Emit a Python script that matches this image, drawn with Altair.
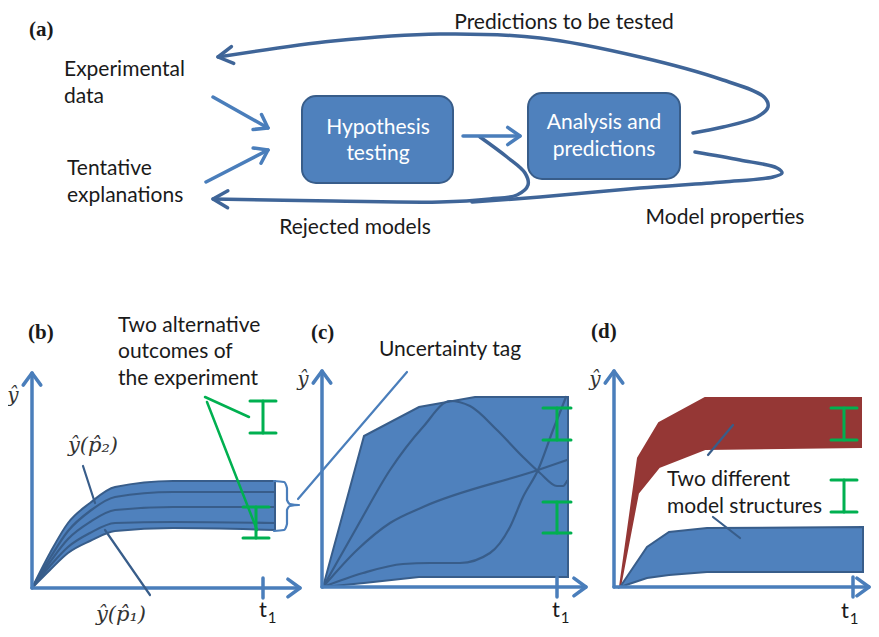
import math
import altair as alt
import pandas as pd

# ---------------- data (diagram coordinates, pixel-like units) ----------------
# Panel (a) boxes: x1, x2, y1, y2
box_x1 = [302, 528]
box_x2 = [453, 680]
box_y1 = [96, 93]
box_y2 = [183, 179]

# Panel (a) curved feedback paths
top_loop = [(693, 133), (723, 127), (757, 117), (768, 107), (764, 97), (723, 80),
            (640, 57), (540, 38), (440, 34), (333, 41), (218, 57)]
model_loop = [(695, 152), (740, 160), (777, 168), (782, 173), (773, 177), (723, 182),
              (640, 188), (540, 197), (472, 202)]
rejected_loop = [(480, 137), (507, 157), (525, 173), (528, 185), (517, 195), (490, 199),
                 (440, 202), (333, 201), (213, 199)]

# Panel (a) straight arrows (start, end)
straight_arrows = [((213, 97), (268, 128)), ((206, 182), (268, 150)), ((463, 136), (520, 136))]

# Axes (origin, y-tip, x-tip, t1 tick x)
axes_origin = [(32, 588), (322, 587), (614, 587)]
axes_ytip = [(32, 373), (322, 371), (614, 371)]
axes_xtip = [(300, 588), (586, 587), (869, 587)]
t1_tick_x = [263, 557, 853]

# Panel (b) band
b_x = [32, 50, 68, 90, 115, 173, 275]
b_upper = [588, 553, 523, 503, 487, 481, 481]
b_lower = [588, 570, 553, 541, 531, 528, 530]
b_line1 = [588, 558, 531, 511, 497, 492, 492]
b_line2 = [588, 562, 539, 522, 510, 507, 507]
b_line3 = [588, 566, 547, 533, 523, 522, 523]
b_brace = [(274, 481), (284, 482), (287, 488), (287, 500), (290, 504), (299, 505),
           (290, 506), (287, 510), (287, 524), (284, 530), (274, 531)]

# Panel (c) envelope and trajectories
c_x = [323, 364, 419, 475, 568]
c_upper = [587, 436, 407, 397, 397]
c_lower = [587, 583, 577, 577, 577]
c_curve1_x = [323, 357, 390, 423, 450, 470, 497, 523, 540, 557, 563, 567]
c_curve1_y = [587, 527, 470, 427, 401, 406, 430, 457, 473, 486, 486, 481]
c_curve2_x = [323, 357, 390, 423, 538, 567]
c_curve2_y = [587, 550, 523, 507, 470, 460]
c_curve3_x = [323, 363, 403, 430, 460, 490, 510, 523, 538, 553, 566]
c_curve3_y = [587, 573, 564, 563, 563, 553, 527, 497, 470, 430, 397]

# Panel (d) two model structures
d_red_x = [620, 638, 659, 705, 861]
d_red_upper = [587, 458, 423, 398, 398]
d_red_lower = [587, 493, 467, 449, 447]
d_blue_x = [620, 647, 669, 707, 863]
d_blue_upper = [587, 547, 532, 528, 527]
d_blue_lower = [587, 578, 575, 572, 572]

# Green error bars: x, y_top, y_bottom, cap half-width
err_x = [263, 256, 557, 557, 844, 844]
err_top = [401, 507, 408, 502, 408, 480]
err_bot = [433, 538, 440, 533, 440, 512]
err_half = [13, 13, 14, 14, 13, 13]

# Green pointer lines
green_ptrs = [((205, 397), (249, 417)), ((207, 402), (257, 530))]
# Dark thin connector lines
dark_ptrs = [((83, 466), (95, 503)), ((105, 530), (150, 595)),
             ((708, 455), (733, 425)), ((713, 517), (740, 538))]
# Uncertainty tag connector
tag_ptr = [((298, 499), (407, 372))]

# Texts
lbl_text = ["(a)", "(b)", "(c)", "(d)"]
lbl_x = [29, 28, 311, 591]
lbl_y = [30, 333, 333, 332]

txt_left = ["Experimental", "data", "Tentative", "explanations",
            "Two alternative", "outcomes of", "the experiment",
            "Two different", "model structures"]
txt_left_x = [64, 64, 67, 67, 118, 118, 118, 667, 667]
txt_left_y = [70, 97, 169, 196, 326, 352, 379, 480, 507]

txt_center = ["Predictions to be tested", "Rejected models", "Model properties", "Uncertainty tag"]
txt_center_x = [564, 355, 725, 450]
txt_center_y = [23, 228, 218, 350]

box_text = ["Hypothesis", "testing", "Analysis and", "predictions"]
box_text_x = [378, 378, 604, 604]
box_text_y = [128, 154, 123, 150]

axis_lbl_x = [13, 303, 595]
axis_lbl_y = [396, 380, 380]

param_text = ["ŷ(p\u0302\u2082)", "ŷ(p\u0302\u2081)"]
param_x = [93, 121]
param_y = [446, 615]

t_x = [263, 556, 845]
t_y = [610, 610, 611]

# ---------------- styling / helpers ----------------
BLUE = "#4F81BD"
DARK = "#385D8A"
LOOP = "#3F6598"
LIGHT = "#4A7EBB"
GREEN = "#00B050"
RED = "#953735"
TXT = "#1A1A1A"

xs = alt.Scale(domain=[8, 871], zero=False, nice=False)
ys = alt.Scale(domain=[8, 629], zero=False, nice=False, reverse=True)
X = alt.X("x:Q", scale=xs, axis=None)
Y = alt.Y("y:Q", scale=ys, axis=None)

layers = []


def path(pts, color, width, interp="linear", cap="round"):
    df = pd.DataFrame({"x": [p[0] for p in pts], "y": [p[1] for p in pts],
                       "o": list(range(len(pts)))})
    return alt.Chart(df).mark_line(color=color, strokeWidth=width, interpolate=interp,
                                   strokeCap=cap, strokeJoin="round").encode(
        x=X, y=Y, order="o:Q")


def head(tip, frm, L=14, ang=32):
    dx, dy = tip[0] - frm[0], tip[1] - frm[1]
    n = math.hypot(dx, dy)
    ux, uy = dx / n, dy / n
    out = []
    for s in (1, -1):
        a = math.radians(ang) * s
        rx = ux * math.cos(a) - uy * math.sin(a)
        ry = ux * math.sin(a) + uy * math.cos(a)
        out.append((tip[0] - L * rx, tip[1] - L * ry))
    return [out[0], tip, out[1]]


def segs(pairs, color, width):
    df = pd.DataFrame({"x": [a[0] for a, b in pairs], "y": [a[1] for a, b in pairs],
                       "x2": [b[0] for a, b in pairs], "y2": [b[1] for a, b in pairs]})
    return alt.Chart(df).mark_rule(color=color, strokeWidth=width, strokeCap="round").encode(
        x=X, y=Y, x2="x2:Q", y2="y2:Q")


def band(xv, up, lo, fill, stroke, interp="linear"):
    df = pd.DataFrame({"x": xv, "y": up, "y2": lo})
    return alt.Chart(df).mark_area(color=fill, stroke=stroke, strokeWidth=2,
                                   interpolate=interp, opacity=1).encode(
        x=X, y=Y, y2="y2:Q")


# ---------------- panel (a) ----------------
boxes = pd.DataFrame({"x": box_x1, "x2": box_x2, "y": box_y1, "y2": box_y2})
layers.append(alt.Chart(boxes).mark_rect(color=BLUE, stroke=DARK, strokeWidth=2,
                                         cornerRadius=14).encode(
    x=X, y=Y, x2="x2:Q", y2="y2:Q"))

for pts in (top_loop, model_loop, rejected_loop):
    layers.append(path(pts, LOOP, 3.5, "catmull-rom"))
layers.append(path(head(top_loop[-1], top_loop[-2], 17, 30), LOOP, 3.5))
layers.append(path(head(rejected_loop[-1], rejected_loop[-2], 17, 30), LOOP, 3.5))

for a, b in straight_arrows:
    layers.append(segs([(a, b)], LIGHT, 3.5))
    layers.append(path(head(b, a, 15, 35), LIGHT, 3.5))

# ---------------- panels (b)-(d): bands ----------------
layers.append(band(b_x, b_upper, b_lower, BLUE, DARK, "monotone"))
for yy in (b_line1, b_line2, b_line3):
    layers.append(path(list(zip(b_x, yy)), DARK, 2.2, "monotone"))

layers.append(band(c_x, c_upper, c_lower, BLUE, DARK))
layers.append(path(list(zip(c_curve1_x, c_curve1_y)), DARK, 2.2, "monotone"))
layers.append(path(list(zip(c_curve2_x, c_curve2_y)), DARK, 2.2, "monotone"))
layers.append(path(list(zip(c_curve3_x, c_curve3_y)), DARK, 2.2, "monotone"))

layers.append(band(d_red_x, d_red_upper, d_red_lower, RED, RED))
layers.append(band(d_blue_x, d_blue_upper, d_blue_lower, BLUE, DARK))

# axes with arrows and t1 tick
for o, yt, xt, tx in zip(axes_origin, axes_ytip, axes_xtip, t1_tick_x):
    layers.append(segs([(o, yt), (o, xt), ((tx, o[1] - 10), (tx, o[1] + 10))], LIGHT, 3.5))
    layers.append(path(head(yt, o, 15, 36), LIGHT, 3.5))
    layers.append(path(head(xt, o, 15, 36), LIGHT, 3.5))

# brace and tag line
layers.append(path(b_brace, LIGHT, 2.2, "monotone"))
layers.append(segs(tag_ptr, LIGHT, 2.2))

# connectors
layers.append(segs(dark_ptrs, DARK, 2.2))
layers.append(segs(green_ptrs, GREEN, 2.5))

# green error bars
err_pairs = []
for x, t, b, h in zip(err_x, err_top, err_bot, err_half):
    err_pairs += [((x, t), (x, b)), ((x - h, t), (x + h, t)), ((x - h, b), (x + h, b))]
layers.append(segs(err_pairs, GREEN, 3))

# ---------------- texts ----------------
FONT = "Lato"
FS = 21
layers.append(alt.Chart(pd.DataFrame({"x": lbl_x, "y": lbl_y, "t": lbl_text})).mark_text(
    font="Liberation Serif", fontWeight="bold", fontSize=21, align="left", baseline="middle",
    color=TXT).encode(x=X, y=Y, text="t:N"))
layers.append(alt.Chart(pd.DataFrame({"x": txt_left_x, "y": txt_left_y, "t": txt_left})).mark_text(
    font=FONT, fontSize=FS, align="left", baseline="middle", color=TXT).encode(
    x=X, y=Y, text="t:N"))
layers.append(alt.Chart(pd.DataFrame({"x": txt_center_x, "y": txt_center_y, "t": txt_center})).mark_text(
    font=FONT, fontSize=FS, align="center", baseline="middle", color=TXT).encode(
    x=X, y=Y, text="t:N"))
layers.append(alt.Chart(pd.DataFrame({"x": box_text_x, "y": box_text_y, "t": box_text})).mark_text(
    font=FONT, fontSize=FS, align="center", baseline="middle", color="white").encode(
    x=X, y=Y, text="t:N"))
layers.append(alt.Chart(pd.DataFrame({"x": axis_lbl_x, "y": axis_lbl_y, "t": ["ŷ"] * 3})).mark_text(
    font="DejaVu Serif", fontStyle="italic", fontSize=20, align="center", baseline="middle",
    color="#333333").encode(x=X, y=Y, text="t:N"))
layers.append(alt.Chart(pd.DataFrame({"x": param_x, "y": param_y, "t": param_text})).mark_text(
    font="DejaVu Serif", fontStyle="italic", fontSize=21, align="center", baseline="middle",
    color="#333333").encode(x=X, y=Y, text="t:N"))
layers.append(alt.Chart(pd.DataFrame({"x": t_x, "y": t_y, "t": ["t"] * 3})).mark_text(
    font=FONT, fontSize=22, align="center", baseline="middle", color=TXT).encode(
    x=X, y=Y, text="t:N"))
layers.append(alt.Chart(pd.DataFrame({"x": [v + 9 for v in t_x], "y": [v + 8 for v in t_y],
                                      "t": ["1"] * 3})).mark_text(
    font=FONT, fontSize=15, align="center", baseline="middle", color=TXT).encode(
    x=X, y=Y, text="t:N"))

chart = alt.layer(*layers).properties(
    width=863, height=621, padding=0, background="white",
    autosize=alt.AutoSizeParams(type="none"),
).configure_view(strokeWidth=0)

chart.save("out.html", embed_options={"renderer": "svg", "actions": False})
